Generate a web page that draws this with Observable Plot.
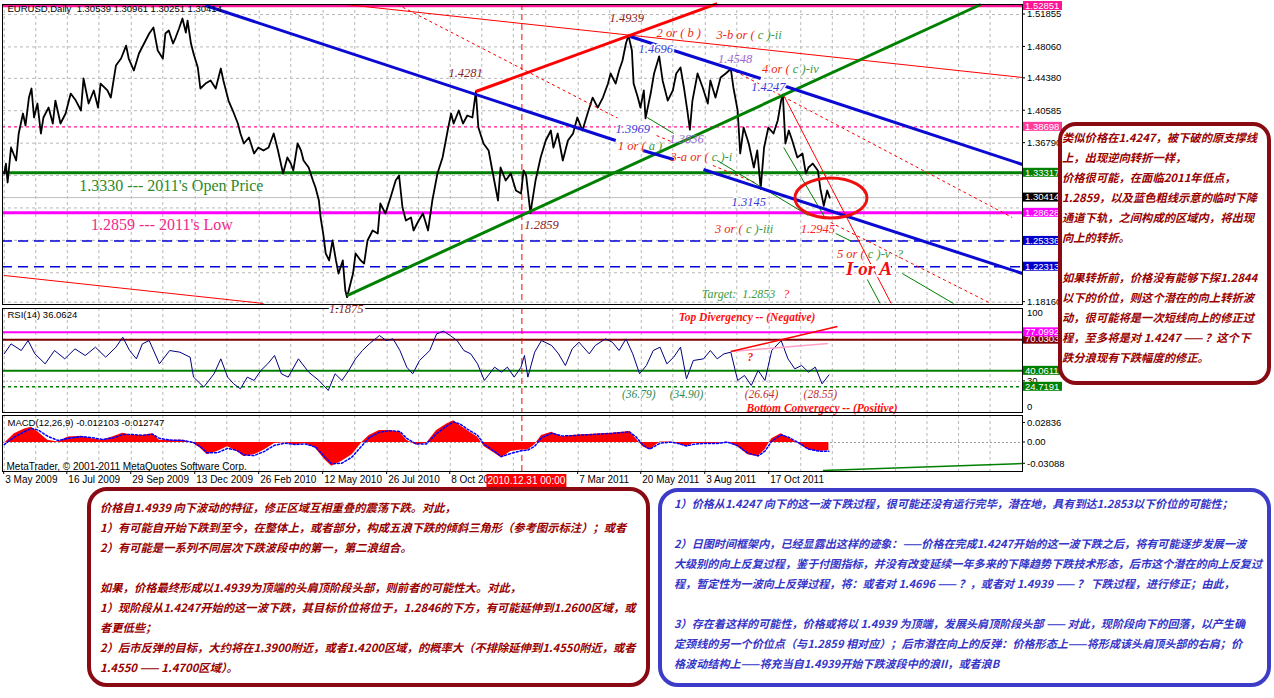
<!DOCTYPE html>
<html><head><meta charset="utf-8">
<script src="https://cdn.jsdelivr.net/npm/d3@7"></script>
<script src="https://cdn.jsdelivr.net/npm/@observablehq/plot@0.6"></script>
<style>
body{margin:0;background:#fff;}
#wrap{position:relative;width:1274px;height:698px;overflow:hidden;background:#fff;}
#wrap svg{position:absolute;left:0;overflow:visible;}
.box{position:absolute;box-sizing:border-box;background:#fff;white-space:pre;font-family:"Noto Sans CJK SC",sans-serif;font-weight:bold;font-style:italic;font-size:11.3px;line-height:20px;overflow:visible;}
</style></head><body><div id="wrap"></div>
<script>
// ---------------- DATA ----------------
const chartTitle = "EURUSD,Daily  1.30539 1.30961 1.30251 1.30414";
const rsiTitle = "RSI(14) 36.0624";
const macdTitle = "MACD(12,26,9) -0.012103 -0.012747";
const copyright = "MetaTrader, \u00A9 2001-2011 MetaQuotes Software Corp.";

const priceDates = [
"2009-05-03","2009-05-05","2009-05-07","2009-05-11","2009-05-17","2009-05-20","2009-05-25","2009-05-28","2009-06-01","2009-06-04",
"2009-06-07","2009-06-11","2009-06-15","2009-06-18","2009-06-24","2009-06-29","2009-07-02","2009-07-08","2009-07-14","2009-07-20",
"2009-07-26","2009-08-01","2009-08-04","2009-08-10","2009-08-16","2009-08-21","2009-08-24","2009-09-01","2009-09-05","2009-09-11",
"2009-09-17","2009-09-23","2009-09-26","2009-10-02","2009-10-08","2009-10-14","2009-10-20","2009-10-25","2009-10-30","2009-11-05",
"2009-11-08","2009-11-12","2009-11-17","2009-11-20","2009-11-24","2009-11-28","2009-12-02","2009-12-04","2009-12-08","2009-12-11",
"2009-12-16","2009-12-19","2009-12-25","2009-12-31","2010-01-06","2010-01-12","2010-01-15","2010-01-21","2010-01-26","2010-02-01",
"2010-02-04","2010-02-08","2010-02-14","2010-02-20","2010-02-25","2010-03-03","2010-03-09","2010-03-15","2010-03-20","2010-03-26",
"2010-03-31","2010-04-04","2010-04-07","2010-04-12","2010-04-16","2010-04-19","2010-04-25","2010-04-30","2010-05-03","2010-05-07",
"2010-05-09","2010-05-12","2010-05-15","2010-05-19","2010-05-23","2010-05-27","2010-05-30","2010-06-04","2010-06-07","2010-06-09",
"2010-06-16","2010-06-19","2010-06-25","2010-06-29","2010-07-03","2010-07-09","2010-07-15","2010-07-18","2010-07-24","2010-07-30",
"2010-08-05","2010-08-09","2010-08-13","2010-08-17","2010-08-23","2010-08-26","2010-09-01","2010-09-06","2010-09-12","2010-09-17",
"2010-09-23","2010-09-29","2010-10-05","2010-10-09","2010-10-12","2010-10-18","2010-10-23","2010-10-28","2010-11-03","2010-11-07",
"2010-11-10","2010-11-16","2010-11-22","2010-11-27","2010-12-03","2010-12-06","2010-12-12","2010-12-18","2010-12-24","2010-12-30",
"2011-01-02","2011-01-05","2011-01-10","2011-01-16","2011-01-22","2011-01-28","2011-02-03","2011-02-06","2011-02-11","2011-02-17",
"2011-02-23","2011-03-01","2011-03-06","2011-03-12","2011-03-18","2011-03-24","2011-03-30","2011-04-05","2011-04-11","2011-04-14",
"2011-04-20","2011-04-24","2011-04-28","2011-05-02","2011-05-05","2011-05-09","2011-05-11","2011-05-16","2011-05-19","2011-05-23",
"2011-05-25","2011-05-31","2011-06-04","2011-06-10","2011-06-14","2011-06-20","2011-06-26","2011-06-30","2011-07-05","2011-07-09",
"2011-07-13","2011-07-16","2011-07-19","2011-07-25","2011-07-31","2011-08-06","2011-08-09","2011-08-15","2011-08-21","2011-08-27",
"2011-09-02","2011-09-05","2011-09-10","2011-09-13","2011-09-17","2011-09-23","2011-09-29","2011-10-03","2011-10-07","2011-10-11",
"2011-10-16","2011-10-22","2011-10-27","2011-10-31","2011-11-02","2011-11-05","2011-11-09","2011-11-13","2011-11-19","2011-11-25",
"2011-11-29","2011-12-02","2011-12-07","2011-12-13","2011-12-16","2011-12-20","2011-12-24","2011-12-27"];
const priceCloses = [
1.3323,1.3440,1.3218,1.3628,1.3476,1.3792,1.4026,1.3886,1.4213,1.4319,
1.3979,1.4143,1.3792,1.3979,1.4096,1.3909,1.4178,1.3909,1.4026,1.4260,
1.4178,1.4061,1.4436,1.4143,1.4296,1.4096,1.4377,1.4296,1.4213,1.4588,
1.4670,1.4822,1.4670,1.4530,1.4729,1.4846,1.4963,1.5033,1.4764,1.4670,
1.4963,1.4998,1.4846,1.4916,1.5022,1.5139,1.4975,1.5115,1.4846,1.4729,
1.4565,1.4319,1.4377,1.4413,1.4319,1.4553,1.4413,1.4178,1.4061,1.3909,
1.3792,1.3675,1.3745,1.3558,1.3628,1.3593,1.3628,1.3792,1.3593,1.3323,
1.3511,1.3440,1.3359,1.3675,1.3593,1.3476,1.3394,1.3241,1.3159,1.3007,
1.2808,1.2621,1.2387,1.2305,1.2539,1.2305,1.2152,1.2305,1.1953,1.1875,
1.2152,1.2387,1.2305,1.2269,1.2539,1.2656,1.2621,1.2972,1.2855,1.3042,
1.3241,1.3300,1.2925,1.2773,1.2808,1.2656,1.2773,1.2855,1.2656,1.3007,
1.3323,1.3511,1.3827,1.4026,1.3909,1.4061,1.3909,1.4003,1.3979,1.4281,
1.3862,1.3675,1.3593,1.3323,1.3007,1.3394,1.3241,1.3323,1.3124,1.3089,
1.3359,1.3300,1.2859,1.3241,1.3511,1.3710,1.3827,1.3628,1.3792,1.3476,
1.3710,1.3792,1.3979,1.3827,1.4026,1.4213,1.4096,1.4213,1.4377,1.4495,
1.4377,1.4530,1.4647,1.4846,1.4939,1.4764,1.4377,1.4213,1.4096,1.4296,
1.3969,1.4260,1.4495,1.4696,1.4413,1.4178,1.4296,1.4495,1.4565,1.4331,
1.4061,1.3836,1.4178,1.4495,1.4331,1.4143,1.4413,1.4213,1.4448,1.4495,
1.4548,1.4331,1.4061,1.3558,1.3862,1.3675,1.3394,1.3593,1.3145,1.3628,
1.3862,1.3792,1.3944,1.4178,1.4247,1.3675,1.3827,1.3710,1.3511,1.3558,
1.3323,1.3394,1.3440,1.3359,1.3145,1.2945,1.3124,1.3041];

const rsiDates = [
"2009-05-03","2009-05-11","2009-05-23","2009-05-31","2009-06-08","2009-06-20","2009-07-01","2009-07-13","2009-07-25","2009-08-06",
"2009-08-18","2009-08-30","2009-09-11","2009-09-19","2009-09-27","2009-10-05","2009-10-12","2009-10-20","2009-11-01","2009-11-13",
"2009-11-25","2009-12-07","2009-12-11","2009-12-23","2010-01-04","2010-01-12","2010-01-20","2010-01-27","2010-02-04","2010-02-12",
"2010-02-20","2010-02-28","2010-03-08","2010-03-16","2010-03-24","2010-04-01","2010-04-13","2010-04-25","2010-05-07","2010-05-18",
"2010-05-26","2010-06-03","2010-06-11","2010-06-19","2010-06-27","2010-07-05","2010-07-17","2010-07-25","2010-08-02","2010-08-10",
"2010-08-18","2010-08-25","2010-09-02","2010-09-14","2010-09-22","2010-09-30","2010-10-08","2010-10-16","2010-10-24","2010-11-01",
"2010-11-09","2010-11-17","2010-11-29","2010-12-07","2010-12-14","2010-12-22","2010-12-30","2011-01-03","2011-01-07","2011-01-15",
"2011-01-23","2011-02-04","2011-02-12","2011-02-20","2011-02-28","2011-03-08","2011-03-20","2011-03-27","2011-04-08","2011-04-16",
"2011-04-24","2011-05-02","2011-05-10","2011-05-18","2011-05-26","2011-06-03","2011-06-11","2011-06-19","2011-06-27","2011-07-05",
"2011-07-12","2011-07-20","2011-08-01","2011-08-09","2011-08-17","2011-08-25","2011-09-02","2011-09-10","2011-09-18","2011-09-26",
"2011-10-04","2011-10-12","2011-10-20","2011-10-31","2011-11-08","2011-11-16","2011-11-24","2011-12-02","2011-12-10","2011-12-18",
"2011-12-26"];
const rsiValues = [
56.4,66.0,59.6,69.2,56.4,46.8,59.6,51.6,61.2,54.8,
62.8,53.2,62.8,72.4,59.6,51.6,66.0,69.2,46.8,59.6,
58.0,53.2,34.0,24.4,37.2,51.6,34.0,27.6,22.8,34.0,
30.8,40.4,46.8,54.8,37.2,34.0,51.6,38.8,30.8,21.2,
37.2,30.8,40.4,51.6,59.6,66.0,74.0,69.2,70.8,59.6,
43.6,37.2,50.0,59.6,75.6,78.2,74.0,69.2,59.6,56.4,
46.8,30.8,43.6,38.8,43.6,34.0,43.6,54.8,34.0,58.0,
69.2,64.4,56.4,45.2,61.2,67.6,56.4,64.4,70.8,67.6,
59.6,70.8,56.4,37.2,45.2,59.6,62.8,46.8,53.2,62.8,
32.4,50.0,51.6,59.6,51.6,56.4,58.0,30.8,35.6,26.0,
40.4,30.8,59.6,69.2,51.6,42.0,45.2,38.8,43.6,27.6,
36.1];

const macdDates = [
"2009-05-03","2009-05-15","2009-05-27","2009-06-04","2009-06-12","2009-06-23","2009-07-05","2009-07-17","2009-08-02","2009-08-14",
"2009-08-26","2009-09-07","2009-09-19","2009-10-01","2009-10-12","2009-10-24","2009-11-01","2009-11-13","2009-11-29","2009-12-11",
"2009-12-19","2009-12-27","2010-01-08","2010-01-20","2010-01-31","2010-02-08","2010-02-20","2010-03-04","2010-03-16","2010-03-28",
"2010-04-09","2010-04-21","2010-05-03","2010-05-14","2010-05-22","2010-06-03","2010-06-15","2010-06-27","2010-07-05","2010-07-17",
"2010-07-29","2010-08-10","2010-08-18","2010-08-29","2010-09-10","2010-09-22","2010-10-04","2010-10-12","2010-10-20","2010-10-28",
"2010-11-09","2010-11-17","2010-11-29","2010-12-07","2010-12-18","2010-12-30","2011-01-07","2011-01-15","2011-01-23","2011-02-04",
"2011-02-16","2011-02-28","2011-03-12","2011-03-24","2011-04-04","2011-04-16","2011-04-28","2011-05-06","2011-05-14","2011-05-22",
"2011-05-30","2011-06-11","2011-06-23","2011-07-01","2011-07-12","2011-07-20","2011-08-01","2011-08-17","2011-08-29","2011-09-10",
"2011-09-22","2011-10-04","2011-10-12","2011-10-20","2011-10-31","2011-11-08","2011-11-20","2011-12-02","2011-12-14","2011-12-26"];
const macdMain = [
-0.0014,0.0127,0.0197,0.0221,0.0150,0.0033,0.0009,0.0080,0.0089,0.0056,
0.0033,0.0080,0.0136,0.0103,0.0103,0.0127,0.0033,0.0033,0.0033,-0.0014,
-0.0085,-0.0179,-0.0132,-0.0061,-0.0132,-0.0202,-0.0179,-0.0108,-0.0014,-0.0005,
-0.0038,-0.0014,-0.0085,-0.0249,-0.0343,-0.0273,-0.0179,0.0009,0.0103,0.0174,
0.0174,0.0150,0.0033,-0.0038,-0.0014,0.0174,0.0268,0.0315,0.0244,0.0174,
0.0080,-0.0061,-0.0155,-0.0226,-0.0132,-0.0108,-0.0108,-0.0038,0.0103,0.0150,
0.0080,0.0103,0.0113,0.0118,0.0127,0.0136,0.0150,0.0160,0.0056,-0.0061,
-0.0108,0.0009,0.0009,-0.0014,-0.0061,-0.0014,-0.0014,-0.0014,0.0009,-0.0061,
-0.0179,-0.0202,-0.0108,0.0056,0.0127,0.0071,-0.0014,-0.0108,-0.0132,-0.0121];
const macdSignal = [
-0.0030,0.0080,0.0160,0.0205,0.0180,0.0090,0.0030,0.0060,0.0085,0.0070,
0.0045,0.0065,0.0115,0.0115,0.0105,0.0120,0.0060,0.0035,0.0030,0.0000,
-0.0060,-0.0150,-0.0150,-0.0085,-0.0115,-0.0180,-0.0190,-0.0130,-0.0040,-0.0010,
-0.0030,-0.0020,-0.0065,-0.0210,-0.0310,-0.0300,-0.0210,-0.0040,0.0070,0.0150,
0.0170,0.0160,0.0060,-0.0020,-0.0020,0.0130,0.0240,0.0300,0.0265,0.0195,
0.0105,-0.0030,-0.0130,-0.0205,-0.0160,-0.0120,-0.0110,-0.0055,0.0070,0.0135,
0.0095,0.0100,0.0110,0.0115,0.0125,0.0133,0.0145,0.0155,0.0080,-0.0040,
-0.0095,-0.0010,0.0005,-0.0010,-0.0050,-0.0025,-0.0015,-0.0015,0.0005,-0.0045,
-0.0155,-0.0195,-0.0125,0.0020,0.0110,0.0080,0.0000,-0.0095,-0.0125,-0.0127];

const priceTicks = [1.51855,1.48060,1.44380,1.40585,1.36790,1.18160];
const priceGridLevels = [1.51855,1.48060,1.44380,1.40585,1.36790,1.32995,1.29200,1.25405,1.21610,1.18160];
const dateTicks = ["2009-05-03","2009-07-16","2009-09-29","2009-12-13","2010-02-26","2010-05-12","2010-07-26","2010-10-08","2011-03-07","2011-05-20","2011-08-03","2011-10-17"];
const dateGrid = ["2009-05-03","2009-06-09","2009-07-16","2009-08-22","2009-09-29","2009-11-05","2009-12-13","2010-01-19","2010-02-26","2010-04-04","2010-05-12","2010-06-18","2010-07-26","2010-09-01","2010-10-08","2010-11-14","2010-12-21","2011-01-28","2011-03-07","2011-04-13","2011-05-20","2011-06-26","2011-08-03","2011-09-09","2011-10-17","2011-11-23","2011-12-30","2012-02-05","2012-03-13","2012-04-19","2012-05-26","2012-07-02"];
const markerDate = "2010-12-31";
const markerLabel = "2010.12.31 00:00";

const priceLevelKeys = ["top","pinkDash","open","current","low","blueA","blueB"];
const priceLevelValues = [1.52851,1.38698,1.33317,1.30414,1.28628,1.25336,1.22313];

const rsiLevelKeys = ["dark","magenta","green","gray","greenDash"];
const rsiLevelValues = [70.0303,77.0992,40.0611,30,24.7191];
const macdTicks = [0.02836,0,-0.03088];

// trend lines: [date1, value1, date2, value2]
const blueThickLines = [
 ["2009-12-25",1.5291,"2011-04-20",1.3710],
 ["2011-05-07",1.4928,"2011-10-07",1.4436],
 ["2011-11-02",1.4354,"2012-08-09",1.3429],
 ["2011-05-22",1.3593,"2011-06-27",1.3487],
 ["2011-08-01",1.3370,"2012-08-09",1.2152]];
const redThickLines = [["2010-11-07",1.4284,"2011-08-17",1.5314]];
const greenThickLines = [["2010-06-09",1.1894,"2012-06-21",1.5303]];
const redThinLines = [
 ["2010-06-07",1.5303,"2012-08-09",1.4448],
 ["2009-05-03",1.2129,"2010-03-03",1.1801],
 ["2011-11-03",1.4237,"2012-03-08",1.1801]];
const redDashLines = [
 ["2010-08-07",1.5303,"2011-04-22",1.3973],
 ["2011-09-01",1.4553,"2012-07-28",1.2808],
 ["2011-12-28",1.2750,"2012-07-03",1.1801],
 ["2011-06-07",1.3768,"2011-06-27",1.3686],
 ["2011-08-12",1.3417,"2011-10-03",1.3206]];
const greenThinLines = [
 ["2011-11-03",1.3628,"2011-12-22",1.2796],
 ["2011-08-17",1.3476,"2011-12-02",1.2831],
 ["2012-01-03",1.2621,"2012-01-22",1.2527],
 ["2012-02-09",1.2082,"2012-02-24",1.1801],
 ["2012-03-21",1.2152,"2012-05-20",1.1801],
 ["2011-05-27",1.3979,"2011-06-27",1.3792]];
const circledZone = ["2011-12-29",1.3031];

// annotations: [date, value, text]
const notesDarkRed = [["2011-05-03",1.5150,"1.4939"],["2010-10-26",1.4495,"1.4281"],["2011-01-23",1.2726,"1.2859"]];
const lowNote = [["2010-06-08",1.1731,"1.1875"]];
const notesBlue = [["2011-06-06",1.4776,"1.4696"],["2011-10-16",1.4331,"1.4247"],["2011-05-10",1.3839,"1.3969"],["2011-09-23",1.2995,"1.3145"]];
const notesPurple = [["2011-09-07",1.4670,"1.4548"],["2011-07-12",1.3733,"1.3836"]];
const notesRed = [["2011-12-13",1.2679,"1.2945"]];
const waveHeads = [["2011-07-29",1.4975,"2 or ( b )"],["2011-09-30",1.4940,"3-b or ("],["2011-11-10",1.4553,"4 or ("],["2011-05-25",1.3651,"1 or ("],["2011-08-07",1.3511,"3-a or ("],["2011-09-16",1.2679,"3 or ("],["2012-02-06",1.2375,"5 or ("]];
const waveTails = [["2011-09-30",1.4940," c )-ii"],["2011-11-10",1.4553," c )-iv"],["2011-05-25",1.3651," a )"],["2011-08-07",1.3511," c )-i"],["2011-09-16",1.2679," c )-iii"],["2012-02-06",1.2375," c )-v  ?"]];
const bigWave = [["2012-02-11",1.2211,"I or A"]];
const targetNote = [["2011-07-30",1.1906,"Target:  1.2853"]];
const targetMark = [["2011-11-06",1.1906,"?"]];
const openNote = [["2009-11-15",1.3183,"1.3330 --- 2011's Open Price"]];
const lowYearNote = [["2009-11-04",1.2726,"1.2859 --- 2011's Low"]];

const rsiTopLine = [["2011-09-02",58.7,"2012-01-05",82.7]];
const rsiTopLine2 = [["2011-09-02",58.7,"2011-12-25",66.3]];
const rsiNotesRed = [["2011-09-21",91.3,"Top Divergency -- (Negative)"],["2011-09-25",52.9,"?"],["2011-12-18",3.8,"Bottom Convergecy -- (Positive)"]];
const rsiNotesGreen = [["2011-05-17",17.3,"(36.79)"],["2011-07-12",17.3,"(34.90)"]];
const rsiNotesBrown = [["2011-10-08",17.3,"(26.64)"],["2011-12-16",17.3,"(28.55)"]];
const macdGreenLine = [["2011-12-19",-0.0406,"2012-08-09",-0.0305]];

const sideNote = [
"类似价格在1.4247，被下破的原支撑线",
"上，出现逆向转折一样，",
"价格很可能，在面临2011年低点，",
"1.2859，以及蓝色粗线示意的临时下降",
"通道下轨，之间构成的区域内，将出现",
"向上的转折。",
"",
"如果转折前，价格没有能够下探1.2844",
"以下的价位，则这个潜在的向上转折波",
"动，很可能将是一次短线向上的修正过",
"程，至多将是对 1.4247 —— ？这个下",
"跌分浪现有下跌幅度的修正。"];
const leftNote = [
"价格自1.4939 向下波动的特征，修正区域互相重叠的震荡下跌。对此，",
"1）有可能自开始下跌到至今，在整体上，或者部分，构成五浪下跌的倾斜三角形（参考图示标注）；或者",
"2）有可能是一系列不同层次下跌波段中的第一，第二浪组合。",
"",
"如果，价格最终形成以1.4939为顶端的头肩顶阶段头部，则前者的可能性大。对此，",
"1）现阶段从1.4247开始的这一波下跌，其目标价位将位于，1.2846的下方，有可能延伸到1.2600区域，或",
"者更低些；",
"2）后市反弹的目标，大约将在1.3900附近，或者1.4200区域，的概率大（不排除延伸到1.4550附近，或者",
"1.4550 —— 1.4700区域）。"];
const rightNote = [
"1）价格从1.4247 向下的这一波下跌过程，很可能还没有运行完毕，潜在地，具有到达1.2853以下价位的可能性；",
"",
"2）日图时间框架内，已经显露出这样的迹象：——价格在完成1.4247开始的这一波下跌之后，将有可能逐步发展一波",
"大级别的向上反复过程，鉴于付图指标，并没有改变延续一年多来的下降趋势下跌技术形态，后市这个潜在的向上反复过",
"程，暂定性为一波向上反弹过程，将：或者对 1.4696 —— ？，或者对 1.4939 —— ？ 下跌过程，进行修正；由此，",
"",
"3）存在着这样的可能性，价格或将以 1.4939 为顶端，发展头肩顶阶段头部 —— 对此，现阶段向下的回落，以产生确",
"定颈线的另一个价位点（与1.2859 相对应）；后市潜在向上的反弹：价格形态上——将形成该头肩顶头部的右肩；价",
"格波动结构上——将充当自1.4939开始下跌波段中的浪II，或者浪B"];

// ---------------- STYLES ----------------
const levelStyle = {
  top:{stroke:"#ff1493",w:2.5,dash:null,box:"#ff1493"},
  pinkDash:{stroke:"#ff1493",w:1.2,dash:"3,3",box:"#ff3c9c"},
  open:{stroke:"#008000",w:3,dash:null,box:"#008000"},
  current:{stroke:"#c0c0c0",w:1,dash:null,box:"#000000"},
  low:{stroke:"#ff00ff",w:3,dash:null,box:"#ff00ff"},
  blueA:{stroke:"#0000d8",w:1.5,dash:"10,6",box:"#0000cd"},
  blueB:{stroke:"#0000d8",w:1.5,dash:"10,6",box:"#0000cd"}
};
const rsiStyle = {
  dark:{stroke:"#800000",w:2,dash:null,box:"#800000"},
  magenta:{stroke:"#ff00ff",w:2,dash:null,box:"#ff00ff"},
  green:{stroke:"#008000",w:2,dash:null,box:"#008000"},
  gray:{stroke:"#b0b0b0",w:1,dash:"2,2",box:null},
  greenDash:{stroke:"#008000",w:1.5,dash:"3,3",box:"#008000"}
};
const SANS = "'Liberation Sans', Arial, sans-serif";
const SERIF = "'Liberation Serif', 'Times New Roman', serif";
const GRID = "#b8b8b8";

// ---------------- HELPERS ----------------
const P = d3.utcParse("%Y-%m-%d");
const fmtDate = d3.utcFormat("%-d %b %Y");
const xScale = {type:"utc", domain:[P("2009-05-01"), P("2012-08-09")], axis:null};
const common = {width:1274, marginLeft:2, marginRight:252,
  style:{background:"transparent", overflow:"visible", fontFamily:SANS, fontSize:"10px"}};
const seg = arr => arr.map(([a,b,c,d]) => ({x1:P(a), y1:b, x2:P(c), y2:d}));
const links = (arr, o) => Plot.link(seg(arr), {x1:"x1", y1:"y1", x2:"x2", y2:"y2", ...o});
const notes = (arr, o) => Plot.text(arr, {x:d=>P(d[0]), y:d=>d[1], text:d=>d[2], fontFamily:SERIF, fontStyle:"italic", fontSize:12.5, ...o});

function rightLabels(items) {
  return (index, scales, values, dim) => {
    const g = d3.create("svg:g").attr("font-family", SANS).attr("font-size", 9.5).attr("text-anchor", "start");
    const x0 = dim.width - dim.marginRight;
    for (const it of items) {
      const y = scales.y(it.value) + (it.dy || 0);
      if (it.box) {
        g.append("rect").attr("x", x0+1).attr("y", y-4.5).attr("width", 39).attr("height", 9).attr("fill", it.box);
        g.append("text").attr("x", x0+3).attr("y", y).attr("dy","0.35em").attr("fill","#fff").text(it.label);
      } else {
        if (!it.dy) g.append("line").attr("x1", x0).attr("x2", x0+3).attr("y1", y).attr("y2", y).attr("stroke","#000");
        g.append("text").attr("x", x0+5).attr("y", y).attr("dy","0.35em").attr("fill","#000").text(it.label);
      }
    }
    return g.node();
  };
}
function ellipseMark(center, rx, ry) {
  return (index, scales) => d3.create("svg:ellipse")
    .attr("cx", scales.x(P(center[0]))).attr("cy", scales.y(center[1]))
    .attr("rx", rx).attr("ry", ry).attr("fill","none").attr("stroke","#ee1111").attr("stroke-width",3).node();
}
function dateAxisExtras() {
  return (index, scales, values, dim) => {
    const g = d3.create("svg:g");
    const yb = dim.height - dim.marginBottom;
    for (const d of dateTicks) {
      const x = scales.x(P(d));
      g.append("line").attr("x1",x).attr("x2",x).attr("y1",yb).attr("y2",yb+3).attr("stroke","#000");
    }
    const cx = scales.x(P(markerDate)) + 4;
    g.append("rect").attr("x", cx-39).attr("y", yb+3).attr("width", 80).attr("height", 13).attr("fill", "#ff0000");
    g.append("text").attr("x", cx+1).attr("y", yb+9.5).attr("dy","0.35em").attr("text-anchor","middle")
      .attr("fill","#fff").attr("font-family",SANS).attr("font-size",10).text(markerLabel);
    return g.node();
  };
}

const priceData = priceDates.map((d,i)=>({date:P(d), value:priceCloses[i]}));
const rsiData = rsiDates.map((d,i)=>({date:P(d), value:rsiValues[i]}));
const macdData = macdDates.map((d,i)=>({date:P(d), main:macdMain[i], signal:macdSignal[i]}));
const gridDates = dateGrid.map(P);
const marker = [P(markerDate)];

// ---------------- PRICE PANEL ----------------
const priceItems = [
  ...priceTicks.map(v => ({value:v, label:v.toFixed(5)})),
  ...priceLevelKeys.map((k,i) => ({value:priceLevelValues[i], label:priceLevelValues[i].toFixed(5), box:levelStyle[k].box}))
];
const pricePlot = Plot.plot({
  ...common, height:306, marginTop:4, marginBottom:2,
  x:xScale, y:{domain:[1.1789,1.5303], axis:null},
  marks:[
    Plot.ruleY(priceGridLevels, {stroke:GRID, strokeDasharray:"3,3"}),
    Plot.ruleX(gridDates, {stroke:GRID, strokeDasharray:"3,3"}),
    ...priceLevelKeys.map((k,i) => Plot.ruleY([priceLevelValues[i]], {stroke:levelStyle[k].stroke, strokeWidth:levelStyle[k].w, strokeDasharray:levelStyle[k].dash || undefined})),
    Plot.ruleX(marker, {stroke:"#ff0000", strokeDasharray:"6,4"}),
    Plot.line(priceData, {x:"date", y:"value", stroke:"#000", strokeWidth:1.8}),
    links(redThinLines, {stroke:"#ff0000", strokeWidth:1}),
    links(redDashLines, {stroke:"#ff0000", strokeWidth:1, strokeDasharray:"3,3"}),
    links(greenThinLines, {stroke:"#008000", strokeWidth:1}),
    links(greenThickLines, {stroke:"#008000", strokeWidth:3}),
    links(blueThickLines, {stroke:"#0a0ad2", strokeWidth:3}),
    links(redThickLines, {stroke:"#ff0000", strokeWidth:3}),
    ellipseMark(circledZone, 36, 20),
    notes(openNote, {fill:"#2a8a2a", fontStyle:"normal", fontSize:16}),
    notes(lowYearNote, {fill:"#f0288c", fontStyle:"normal", fontSize:16}),
    notes(notesDarkRed, {fill:"#8b2323"}),
    notes(lowNote, {fill:"#8b2323", stroke:"#fff", strokeWidth:5, paintOrder:"stroke"}),
    notes(notesBlue, {fill:"#3b3bd9", stroke:"#fff", strokeWidth:3, paintOrder:"stroke"}),
    notes(notesPurple, {fill:"#9a6ad0"}),
    notes(notesRed, {fill:"#ff2020"}),
    notes(waveHeads, {fill:"#f02a10", textAnchor:"end"}),
    notes(waveTails, {fill:"#3a9a3a", textAnchor:"start"}),
    notes(bigWave, {fill:"#ee1111", fontWeight:"bold", fontSize:19, stroke:"#fff", strokeWidth:4, paintOrder:"stroke"}),
    notes(targetNote, {fill:"#3a9a3a", textAnchor:"start", fontSize:12}),
    notes(targetMark, {fill:"#ff2020", fontSize:12}),
    Plot.text([chartTitle], {text:d=>d, frameAnchor:"top-left", lineAnchor:"top", dx:5, dy:1, fill:"#000", fontSize:9.5}),
    Plot.frame({stroke:"#000"}),
    rightLabels(priceItems)
  ]
});

// ---------------- RSI PANEL ----------------
const rsiItems = [
  {value:100, label:"100", dy:5}, {value:0, label:"0", dy:-5},
  ...rsiLevelKeys.map((k,i) => ({value:rsiLevelValues[i], label: rsiStyle[k].box ? rsiLevelValues[i].toFixed(4) : String(rsiLevelValues[i]), box:rsiStyle[k].box}))
];
const rsiPlot = Plot.plot({
  ...common, height:116, marginTop:8, marginBottom:4,
  x:xScale, y:{domain:[0,100], axis:null},
  marks:[
    Plot.ruleX(gridDates, {stroke:GRID, strokeDasharray:"3,3"}),
    ...rsiLevelKeys.map((k,i) => Plot.ruleY([rsiLevelValues[i]], {stroke:rsiStyle[k].stroke, strokeWidth:rsiStyle[k].w, strokeDasharray:rsiStyle[k].dash || undefined})),
    Plot.ruleX(marker, {stroke:"#ff0000", strokeDasharray:"6,4"}),
    Plot.line(rsiData, {x:"date", y:"value", stroke:"#000080", strokeWidth:1}),
    links(rsiTopLine2, {stroke:"#ff9ec8", strokeWidth:1.5}),
    links(rsiTopLine, {stroke:"#ff0000", strokeWidth:1.5}),
    notes(rsiNotesRed, {fill:"#ff1010", fontSize:11.5, fontWeight:"bold"}),
    notes(rsiNotesGreen, {fill:"#2e8b57", fontSize:11.5}),
    notes(rsiNotesBrown, {fill:"#c0302a", fontSize:11.5}),
    Plot.text([rsiTitle], {text:d=>d, frameAnchor:"top-left", lineAnchor:"top", dx:5, dy:3, fill:"#000", fontSize:9.5}),
    Plot.frame({stroke:"#000"}),
    rightLabels(rsiItems)
  ]
});

// ---------------- MACD PANEL ----------------
const macdItems = macdTicks.map(v => ({value:v, label: v === 0 ? "0.00" : v.toFixed(5)}));
const macdPlot = Plot.plot({
  ...common, height:90, marginTop:5, marginBottom:29,
  x:xScale, y:{domain:[-0.0421,0.0392], axis:null},
  marks:[
    Plot.ruleX(gridDates, {stroke:GRID, strokeDasharray:"3,3"}),
    Plot.ruleY([0], {stroke:"#a0a0a0", strokeDasharray:"2,2"}),
    Plot.ruleX(marker, {stroke:"#ff0000", strokeDasharray:"6,4"}),
    Plot.areaY(macdData, {x:"date", y:"main", fill:"#ff0000"}),
    Plot.line(macdData, {x:"date", y:"signal", stroke:"#0000ff", strokeWidth:1.5, strokeDasharray:"2,2"}),
    links(macdGreenLine, {stroke:"#008000", strokeWidth:1.5}),
    Plot.text([macdTitle], {text:d=>d, frameAnchor:"top-left", lineAnchor:"top", dx:5, dy:4, fill:"#000", fontSize:9.5}),
    Plot.text([copyright], {text:d=>d, frameAnchor:"bottom-left", lineAnchor:"bottom", dx:4, dy:-2, fill:"#000", fontSize:10}),
    Plot.frame({stroke:"#000"}),
    Plot.text(dateTicks.map(P), {x:d=>d, text:d=>fmtDate(d), frameAnchor:"bottom", textAnchor:"start", lineAnchor:"top", dx:1, dy:4, fill:"#000", fontSize:10}),
    dateAxisExtras(),
    rightLabels(macdItems)
  ]
});

// ---------------- ASSEMBLE ----------------
const wrap = document.getElementById("wrap");
function place(svg, top) { svg.style.position="absolute"; svg.style.left="0px"; svg.style.top=top+"px"; wrap.appendChild(svg); }
place(macdPlot, 410);
place(rsiPlot, 300);
place(pricePlot, 0);

function box(lines, css) {
  const el = document.createElement("div");
  el.className = "box";
  Object.assign(el.style, css);
  el.textContent = lines.join("\n");
  wrap.appendChild(el);
}
box(sideNote, {left:"1058px", top:"122px", width:"213px", height:"263px", border:"4px solid #8a0a14", borderRadius:"18px", color:"#990000", padding:"1px 0 0 0"});
box(leftNote, {left:"87px", top:"487px", width:"563px", height:"200px", border:"4px solid #8a0a14", borderRadius:"20px", color:"#990000", padding:"6px 0 0 9px"});
box(rightNote, {left:"658px", top:"488px", width:"613px", height:"199px", border:"4px solid #3c3cc8", borderRadius:"20px", color:"#3535c8", padding:"1px 0 0 12px", fontSize:"11.1px"});
</script></body></html>
